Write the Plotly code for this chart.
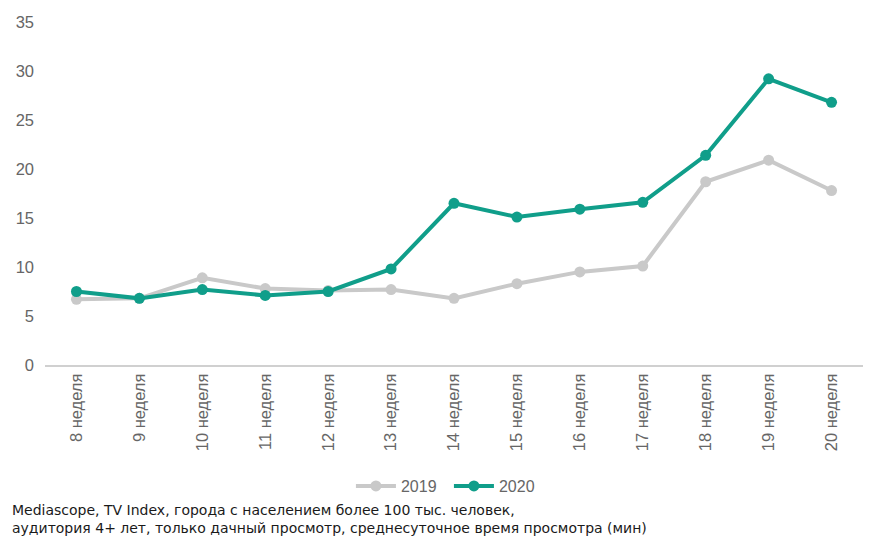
import plotly.graph_objects as go

weeks = ["8 неделя", "9 неделя", "10 неделя", "11 неделя", "12 неделя", "13 неделя",
         "14 неделя", "15 неделя", "16 неделя", "17 неделя", "18 неделя", "19 неделя", "20 неделя"]
v2019 = [6.7, 6.8, 8.9, 7.8, 7.6, 7.7, 6.8, 8.3, 9.5, 10.1, 18.7, 20.9, 17.8]
v2020 = [7.5, 6.8, 7.7, 7.1, 7.5, 9.8, 16.5, 15.1, 15.9, 16.6, 21.4, 29.2, 26.8]
y_ticks = [0, 5, 10, 15, 20, 25, 30, 35]

fig = go.Figure()
fig.add_trace(go.Scatter(x=weeks, y=v2019, name="2019", mode="lines+markers",
                         line=dict(color="#c9c9c9", width=4),
                         marker=dict(color="#c9c9c9", size=11)))
fig.add_trace(go.Scatter(x=weeks, y=v2020, name="2020", mode="lines+markers",
                         line=dict(color="#109e8a", width=4),
                         marker=dict(color="#109e8a", size=11)))

fig.update_layout(
    width=885, height=540,
    margin=dict(l=45, r=22, t=22, b=175),
    plot_bgcolor="white", paper_bgcolor="white",
    font=dict(family="Liberation Sans", size=16, color="#595959"),
    xaxis=dict(type="category", range=[-0.5, 12.5], tickangle=-90,
               showline=True, linecolor="#d0d0d0", linewidth=2,
               showgrid=False, ticks="", automargin=False,
               tickfont=dict(family="Liberation Sans", size=16.5, color="#666666")),
    yaxis=dict(range=[0, 35], tickvals=y_ticks, showgrid=False, zeroline=False,
               showline=False, ticks="", automargin=False, ticklabelstandoff=10,
               tickfont=dict(family="Liberation Sans", size=16.5, color="#666666")),
    legend=dict(orientation="h", x=0.374, xanchor="left", y=-0.353, yanchor="middle",
                entrywidth=43, entrywidthmode="pixels", itemwidth=40,
                font=dict(family="Liberation Sans", size=16, color="#666666")),
    showlegend=True,
)
fig.add_annotation(
    xref="paper", yref="paper", x=-0.043, y=-0.395, xanchor="left", yanchor="top",
    align="left", showarrow=False,
    text="Mediascope, TV Index, города с населением более 100 тыс. человек,<br>аудитория 4+ лет, только дачный просмотр, среднесуточное время просмотра (мин)",
    font=dict(family="DejaVu Sans", size=14, color="#1a1a1a"),
)
fig.write_html("out.html", config={"displayModeBar": False},
               post_script="document.body.style.margin='0';document.body.style.overflow='hidden';")
